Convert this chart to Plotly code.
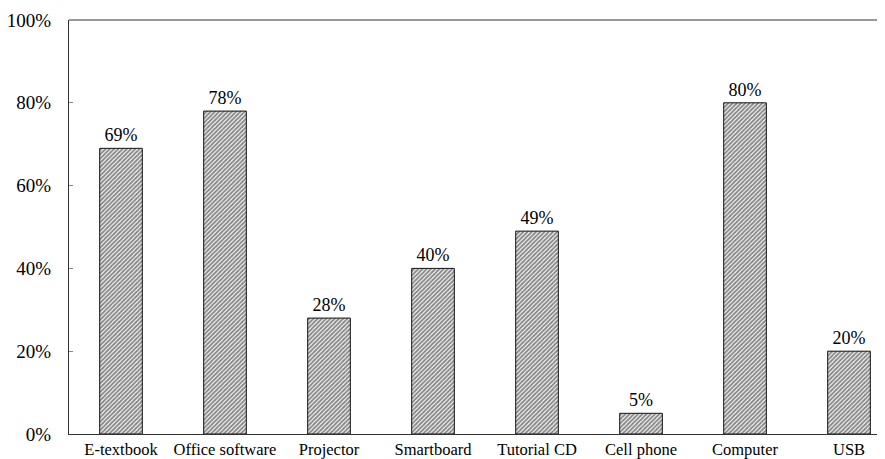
import plotly.graph_objects as go

categories = ["E-textbook", "Office software", "Projector", "Smartboard",
              "Tutorial CD", "Cell phone", "Computer", "USB"]
values = [69, 78, 28, 40, 49, 5, 80, 20]
labels = [f"{v}%" for v in values]
ytick_vals = [0, 20, 40, 60, 80, 100]
ytick_text = [f"{v}%" for v in ytick_vals]

font = "Liberation Serif"

fig = go.Figure(go.Bar(
    x=categories, y=values, text=labels, textposition="outside",
    textfont=dict(family=font, size=18, color="black"),
    cliponaxis=False, width=0.41,
    marker=dict(color="white", line=dict(color="#111", width=1),
                pattern=dict(shape="/", size=3, solidity=0.65,
                             fgcolor="#111", bgcolor="white")),
))

fig.update_layout(
    width=885, height=459,
    margin=dict(l=61, r=8, t=12, b=33),
    paper_bgcolor="white", plot_bgcolor="white",
    showlegend=False,
    font=dict(family=font, size=16, color="black"),
)
fig.update_xaxes(range=[-0.5, 7.346], showline=True, linecolor="#333",
                 linewidth=1, mirror=False, ticks="", showgrid=False,
                 automargin=False,
                 tickfont=dict(family=font, size=16.5, color="black"))
fig.update_yaxes(range=[0, 100], tickvals=ytick_vals, ticktext=ytick_text,
                 showline=True, linecolor="#333", linewidth=1, showgrid=False,
                 ticks="inside", ticklen=4, tickcolor="#888",
                 ticklabelstandoff=13, zeroline=False, automargin=False,
                 tickfont=dict(family=font, size=19, color="black"))
# top border line
fig.add_shape(type="line", xref="paper", yref="paper", x0=0, x1=1, y0=1, y1=1,
              line=dict(color="#333", width=1))

fig.write_html("out.html")
